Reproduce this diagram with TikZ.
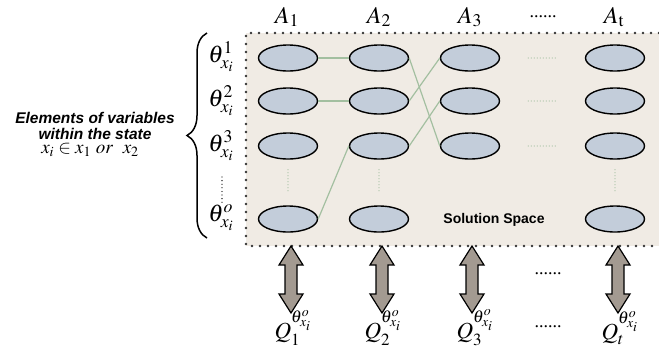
\documentclass[tikz,border=0pt]{standalone}
\usepackage{mathptmx}
\usepackage{fontspec}
\setmainfont{Liberation Serif}
\setsansfont{Liberation Sans}
\usetikzlibrary{shapes.geometric,decorations.pathreplacing}

\definecolor{spacefill}{HTML}{F0EBE4}
\definecolor{cellfill}{HTML}{C3CDDA}
\definecolor{linkgreen}{HTML}{A3BFA0}
\definecolor{arrowfill}{HTML}{A39A91}

% double-headed block arrow centred on x = #1
\newcommand\qarrow[1]{%
  \draw[qarr] (#1,246) -- ++(12,19) -- ++(-6,0) -- ++(0,29) -- ++(6,0)
    -- (#1,313) -- ++(-12,-19) -- ++(6,0) -- ++(0,-29) -- ++(-6,0) -- cycle;}

\begin{document}
\begin{tikzpicture}[x=1pt,y=-1pt,
  cell/.style={ellipse, draw=black, line width=1.4pt, fill=cellfill,
    minimum width=59pt, minimum height=26pt, inner sep=0pt},
  link/.style={linkgreen, line width=1.2pt},
  greendots/.style={linkgreen, line width=1.3pt, line cap=round,
    dash pattern=on 0pt off 3pt},
  blackdots/.style={black, line width=1.3pt, line cap=round,
    dash pattern=on 0pt off 3.6pt},
  border/.style={black!80, line width=2.6pt, line cap=round,
    dash pattern=on 0pt off 8pt},
  qarr/.style={draw=black, line width=1.2pt, fill=arrowfill, line join=miter},
  big/.style={font=\fontsize{24}{26}\selectfont},
  qlbl/.style={font=\fontsize{23}{25}\selectfont},
  dots/.style={font=\fontsize{18}{20}\selectfont},
  lbl/.style={inner sep=0pt}]
\useasboundingbox (0,0) rectangle (659,349);

% solution space
\fill[spacefill] (246,33) rectangle (659,246);
\draw[border] (659,33) -- (246,33) -- (246,246) -- (659,246);

% column headers
\node[lbl,big] (h1) at (287,17) {$A_1$};
\node[lbl,big] (h2) at (379,17) {$A_2$};
\node[lbl,big] (h3) at (470,17) {$A_3$};
\node[lbl,dots] (hd) at (543,17) {......};
\node[lbl,big] (ht) at (614,17) {$A_{\mathrm{t}}$};

% element cells
\foreach \c/\x in {1/288,2/379,t/615}
  \foreach \r/\y in {1/58,2/101,3/146,o/219}
    \node[cell] (e\c\r) at (\x,\y) {};
\foreach \r/\y in {1/58,2/101,3/146}
  \node[cell] (e3\r) at (470,\y) {};

% links between chosen elements
\draw[link] (e11.east) -- (e21.west);
\draw[link] (e12.east) -- (e22.west);
\draw[link] (e1o.east) -- (e23.west);
\draw[link] (e21.east) -- (e33.west);
\draw[link] (e22.east) -- (e31.west);
\draw[link] (e23.east) -- (e32.west);

% omitted elements
\foreach \c in {1,2,t}
  \draw[greendots] ([yshift=-10pt]e\c3.south) -- ([yshift=12pt]e\c o.north);
\foreach \r in {1,2,3}
  \draw[greendots] ([xshift=28pt]e3\r.east) -- ([xshift=-28pt]et\r.west);

\node[lbl,font=\sffamily\bfseries\fontsize{14}{16}\selectfont] (ss) at (494,220) {Solution Space};

% row labels and brace
\node[lbl,big] (t1) at (221,57) {$\theta^{1}_{x_i}$};
\node[lbl,big] (t2) at (221,101) {$\theta^{2}_{x_i}$};
\node[lbl,big] (t3) at (221,146) {$\theta^{3}_{x_i}$};
\node[lbl,big] (to) at (221,218) {$\theta^{o}_{x_i}$};
\draw[blackdots] (222,177) -- (222,203);
\draw[line width=1.5pt, decorate, decoration={brace, amplitude=20pt}]
  (207,238) -- (207,33);

\node[lbl, align=center, font=\sffamily\bfseries\itshape\fontsize{15.5}{16.5}\selectfont]
  (desc) at (95,126) {Elements of variables\\within the state};
\node[lbl, font=\fontsize{19}{19}\selectfont] (dom) at (90,150)
  {$x_i \in x_1\ \mathit{or}\ \ x_2$};

% block arrows and their labels
\qarrow{291}
\qarrow{382}
\qarrow{472}
\qarrow{618}
\node[lbl,qlbl] (q1) at (293,328) {$Q_1^{\theta^{o}_{x_i}}$};
\node[lbl,qlbl] (q2) at (383,328) {$Q_2^{\theta^{o}_{x_i}}$};
\node[lbl,qlbl] (q3) at (475,328) {$Q_3^{\theta^{o}_{x_i}}$};
\node[lbl,qlbl] (qt) at (620,328) {$Q_t^{\theta^{o}_{x_i}}$};
\node[lbl,dots] (d1) at (548,274) {......};
\node[lbl,dots] (d2) at (548,327) {......};
\end{tikzpicture}
\end{document}
